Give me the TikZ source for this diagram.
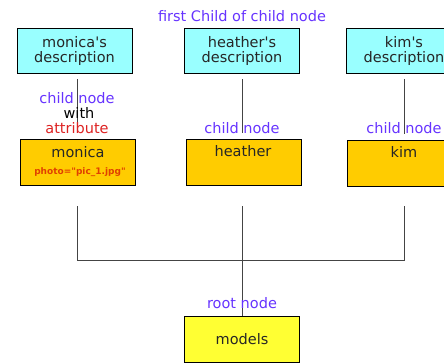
\documentclass[tikz,border=0pt]{standalone}
\usepackage{fontspec}
\setmainfont{DejaVu Sans}[Ligatures=TeXOff]
\definecolor{cyanbox}{HTML}{99FFFF}
\definecolor{orangebox}{HTML}{FFCC00}
\definecolor{yellowbox}{HTML}{FFFF33}
\definecolor{lblblue}{HTML}{6633FF}
\definecolor{lblred}{HTML}{DD2222}
\definecolor{attrred}{HTML}{E04000}
\definecolor{linegray}{HTML}{444444}
\begin{document}
\begin{tikzpicture}[x=1pt,y=-1pt,
  box/.style={draw=black,line width=0.9pt,minimum width=115pt,minimum height=45pt,inner sep=0pt},
  desc/.style={box,fill=cyanbox},
  child/.style={box,fill=orangebox,minimum height=46pt},
  rootbox/.style={box,fill=yellowbox,minimum height=46pt},
  txt/.style={font=\fontsize{14.5}{15}\selectfont,text=black!85,align=center,inner sep=0pt},
  lbl/.style={font=\fontsize{14.5}{15}\selectfont,text=lblblue,inner sep=0pt},
  conn/.style={draw=linegray,line width=0.9pt}]
\useasboundingbox (0,0) rectangle (444,362);
\clip (0,0) rectangle (444,362);
% description boxes
\node[desc] (mod) at (74.5,50.5) {};
\node[desc] (hed) at (242,50.5) {};
\node[desc] (kid) at (404,50.5) {};
\node[txt] (modt) at (mod.center) {monica's\\description};
\node[txt] (hedt) at (hed.center) {heather's\\description};
\node[txt] (kidt) at (kid.center) {kim's\\description};
% child boxes
\node[child] (mo) at (78,162) {};
\node[child] (he) at (243.5,162) {};
\node[child] (ki) at (405,163) {};
\node[txt] (mot) at (78,152) {monica};
\node[font=\fontsize{9}{11}\selectfont\bfseries,text=attrred,inner sep=0pt] (moa) at (80,172.5) {photo="pic\_1.jpg"};
\node[txt] (het) at (243,151) {heather};
\node[txt] (kit) at (404,152) {kim};
% root
\node[rootbox] (root) at (242,339) {};
\node[txt] (roott) at (root.center) {models};
% junctions
\coordinate (b1) at (77,206);
\coordinate (b2) at (242,206);
\coordinate (b3) at (404,206);
\coordinate (j1) at (77,260);
\coordinate (j3) at (404,260);
% connectors
\draw[conn,shorten <=6pt,shorten >=6pt] (mod.south -| b1) -- (mo.north -| b1);
\draw[conn,shorten <=6pt,shorten >=6pt] (hed.south -| b2) -- (he.north -| b2);
\draw[conn,shorten <=6pt,shorten >=6pt] (kid.south -| b3) -- (ki.north -| b3);
\draw[conn] (b1) -- (j1) -- (j3) -- (b3);
\draw[conn] (b2) -- (root.north);
% labels
\node[lbl] (top) at (242,16) {first Child of child node};
\node[lbl] (l1) at (77,98) {child node};
\node[lbl,text=black] (l1b) at (79,113) {with};
\node[lbl,text=lblred] (l1c) at (77,128) {attribute};
\node[lbl] (l2) at (242,128) {child node};
\node[lbl] (l3) at (404,128) {child node};
\node[lbl] (l4) at (242,303) {root node};
\end{tikzpicture}
\end{document}
